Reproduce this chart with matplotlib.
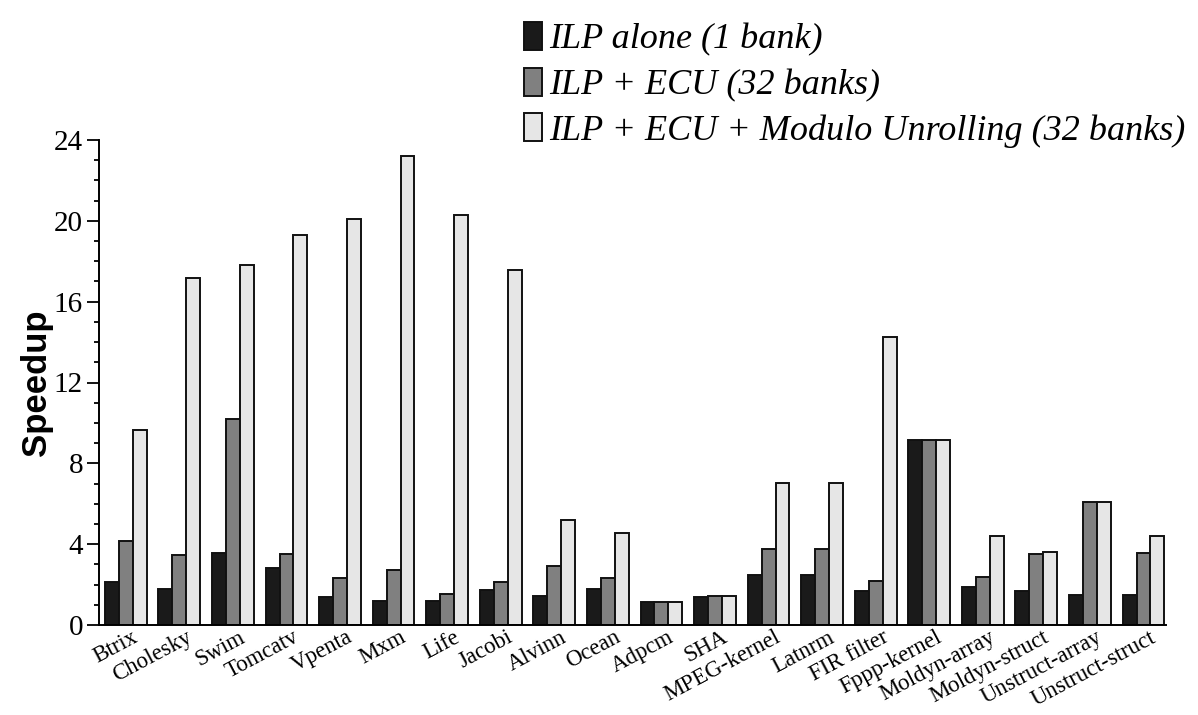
import numpy as np
import matplotlib
matplotlib.use("Agg")
import matplotlib.pyplot as plt
from matplotlib.ticker import MultipleLocator
from matplotlib.transforms import ScaledTranslation

# benchmarks and measured speedups
benchmarks = ["Btrix", "Cholesky", "Swim", "Tomcatv", "Vpenta", "Mxm", "Life",
              "Jacobi", "Alvinn", "Ocean", "Adpcm", "SHA", "MPEG-kernel",
              "Latnrm", "FIR filter", "Fppp-kernel", "Moldyn-array",
              "Moldyn-struct", "Unstruct-array", "Unstruct-struct"]
ilp_alone = [2.14, 1.78, 3.55, 2.84, 1.37, 1.19, 1.20, 1.72, 1.45, 1.79,
             1.13, 1.38, 2.49, 2.49, 1.69, 9.17, 1.86, 1.67, 1.46, 1.46]
ilp_ecu = [4.16, 3.47, 10.20, 3.50, 2.34, 2.72, 1.52, 2.11, 2.90, 2.34,
           1.13, 1.43, 3.74, 3.74, 2.19, 9.17, 2.39, 3.50, 6.11, 3.55]
ilp_ecu_unroll = [9.65, 17.15, 17.80, 19.30, 20.10, 23.20, 20.30, 17.57, 5.22, 4.54,
                  1.13, 1.43, 7.05, 7.05, 14.23, 9.17, 4.40, 3.59, 6.11, 4.40]
series_labels = ["ILP alone (1 bank)", "ILP + ECU (32 banks)",
                 "ILP + ECU + Modulo Unrolling (32 banks)"]
yticks = [0, 4, 8, 12, 16, 20, 24]

colors = ["#1a1a1a", "#808080", "#e6e6e6"]
serif = "Liberation Serif"

fig = plt.figure(figsize=(11.98, 7.15), dpi=100)
ax = fig.add_axes([99 / 1198, 90 / 715, 1067 / 1198, 485 / 715])

x = np.arange(len(benchmarks))
w = 0.26
handles = []
for i, (vals, c) in enumerate(zip([ilp_alone, ilp_ecu, ilp_ecu_unroll], colors)):
    b = ax.bar(x + (i - 1) * w, vals, width=w, color=c, edgecolor="#111111",
               linewidth=1.4, label=series_labels[i])
    handles.append(b)

ax.set_xlim(-0.5, 19.42)
ax.set_ylim(0, 24)
ax.set_yticks(yticks)
ax.yaxis.set_minor_locator(MultipleLocator(1))
ax.tick_params(axis="y", which="major", length=8.5, width=1.3, labelsize=21, pad=3)
ax.tick_params(axis="y", which="minor", length=3.6, width=1.3)
for lab in ax.get_yticklabels():
    lab.set_fontfamily(serif)

ax.set_xticks(x)
ax.set_xticklabels(benchmarks, rotation=28, ha="right", va="center",
                   rotation_mode="anchor", fontsize=16.5, fontfamily=serif)
ax.tick_params(axis="x", length=0, pad=8)
shift = ScaledTranslation(11 / 100, 0, fig.dpi_scale_trans)
for lab in ax.get_xticklabels():
    lab.set_transform(lab.get_transform() + shift)

for side in ["top", "right"]:
    ax.spines[side].set_visible(False)
for side in ["left", "bottom"]:
    ax.spines[side].set_linewidth(1.4)

ax.set_ylabel("Speedup", fontsize=25, fontweight="bold",
              fontfamily="Liberation Sans", labelpad=1)

fig.legend(handles=handles, labels=series_labels, loc="upper left",
           bbox_to_anchor=(524 / 1198, 1 - 22 / 715), frameon=False,
           prop={"family": serif, "style": "italic", "size": 26},
           handlelength=0.5, handleheight=0.83, handletextpad=0.2,
           labelspacing=0.3, borderpad=0, borderaxespad=0)

fig.savefig("out.png", dpi=100)
